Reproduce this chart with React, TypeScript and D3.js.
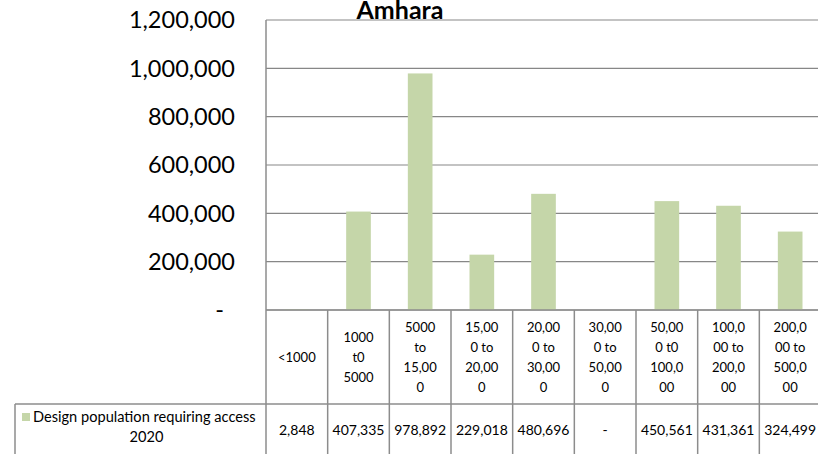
import React from "react";
import { scaleBand, scaleLinear, format } from "d3";

// chart values
const categories = [
  "<1000",
  "1000 t0 5000",
  "5000 to 15,000",
  "15,000 to 20,000",
  "20,000 to 30,000",
  "30,000 to 50,000",
  "50,000 t0 100,000",
  "100,000 to 200,000",
  "200,000 to 500,000",
];
// header labels wrapped the way the table shows them
const categoryLines = [
  ["<1000"],
  ["1000", "t0", "5000"],
  ["5000", "to", "15,00", "0"],
  ["15,00", "0 to", "20,00", "0"],
  ["20,00", "0 to", "30,00", "0"],
  ["30,00", "0 to", "50,00", "0"],
  ["50,00", "0 t0", "100,0", "00"],
  ["100,0", "00 to", "200,0", "00"],
  ["200,0", "00 to", "500,0", "00"],
];
const values = [2848, 407335, 978892, 229018, 480696, 0, 450561, 431361, 324499];
const yTicks = [0, 200000, 400000, 600000, 800000, 1000000, 1200000];
const seriesName = ["Design population requiring access", "2020"];
const title = "Amhara";

const W = 818;
const H = 454;
const plot = { left: 266, right: 821, top: 20, bottom: 310 };
const headerBottom = 404;
const legendLeft = 15;

const FONT = "Lato, 'Open Sans', sans-serif";
const GRID = "#878787";
const BORDER = "#8c8c8c";
const BAR = "#c5d6a9";

const fmt = format(",");
const label = (v: number) => (v === 0 ? "-" : fmt(v));

const App = () => {
  const x = scaleBand<string>()
    .domain(categories)
    .range([plot.left, plot.right])
    .paddingInner(0.6)
    .paddingOuter(0.3);
  const y = scaleLinear().domain([0, 1200000]).range([plot.bottom, plot.top]);

  const step = x.step();
  const bw = x.bandwidth();
  const colLeft = (c: string) => (x(c) as number) + bw / 2 - step / 2;
  const colMid = (c: string) => (x(c) as number) + bw / 2;

  const headerMid = (plot.bottom + headerBottom) / 2;
  const rowMid = 430;

  return (
    <svg
      width={W}
      height={H}
      style={{ position: "absolute", left: 0, top: 0, background: "#fff" }}
      fontFamily={FONT}
    >
      {/* gridlines */}
      {yTicks.map((t) => (
        <line
          key={"g" + t}
          x1={plot.left}
          x2={plot.right}
          y1={y(t)}
          y2={y(t)}
          stroke={GRID}
          strokeWidth={1.2}
        />
      ))}

      {/* y tick labels */}
      {yTicks.map((t) => (
        <text
          key={"t" + t}
          x={t === 0 ? 224 : 235}
          y={y(t)}
          dy="0.36em"
          textAnchor="end"
          fontSize={23.5}
          fill="#000"
        >
          {label(t)}
        </text>
      ))}

      {/* bars */}
      {categories.map((c, i) => (
        <rect
          key={"b" + c}
          x={x(c)}
          y={y(values[i])}
          width={bw}
          height={y(0) - y(values[i])}
          fill={BAR}
        />
      ))}

      {/* title */}
      <text x={400} y={19} textAnchor="middle" fontSize={25} fontWeight="bold">
        {title}
      </text>

      {/* data table */}
      <g stroke={BORDER} strokeWidth={1.5}>
        <line x1={plot.left} x2={plot.left} y1={plot.top} y2={H} />
        <line x1={plot.left} x2={plot.right} y1={plot.bottom} y2={plot.bottom} />
        <line x1={legendLeft} x2={plot.right} y1={headerBottom} y2={headerBottom} />
        <line x1={legendLeft} x2={legendLeft} y1={headerBottom} y2={H} />
        {categories.slice(1).map((c) => (
          <line key={"v" + c} x1={colLeft(c)} x2={colLeft(c)} y1={plot.bottom} y2={H} />
        ))}
      </g>

      {categories.map((c, i) => {
        const lines = categoryLines[i];
        const lh = 20;
        const start = headerMid - ((lines.length - 1) * lh) / 2;
        return (
          <text key={"h" + c} textAnchor="middle" fontSize={13} fill="#000">
            {lines.map((l, j) => (
              <tspan key={j} x={colMid(c)} y={start + j * lh} dy="0.36em">
                {l}
              </tspan>
            ))}
          </text>
        );
      })}

      {categories.map((c, i) => (
        <text
          key={"v" + c}
          x={colMid(c)}
          y={rowMid}
          dy="0.36em"
          textAnchor="middle"
          fontSize={14}
          fill="#000"
        >
          {label(values[i])}
        </text>
      ))}

      {/* legend key inside the table */}
      <rect x={22} y={413} width={8} height={8} fill={BAR} />
      <text x={33} y={417} dy="0.36em" fontSize={14.6} fill="#000">
        {seriesName[0]}
      </text>
      <text x={(legendLeft + plot.left) / 2 + 6} y={437} dy="0.36em" textAnchor="middle" fontSize={14.6} fill="#000">
        {seriesName[1]}
      </text>
    </svg>
  );
};

export default App;
